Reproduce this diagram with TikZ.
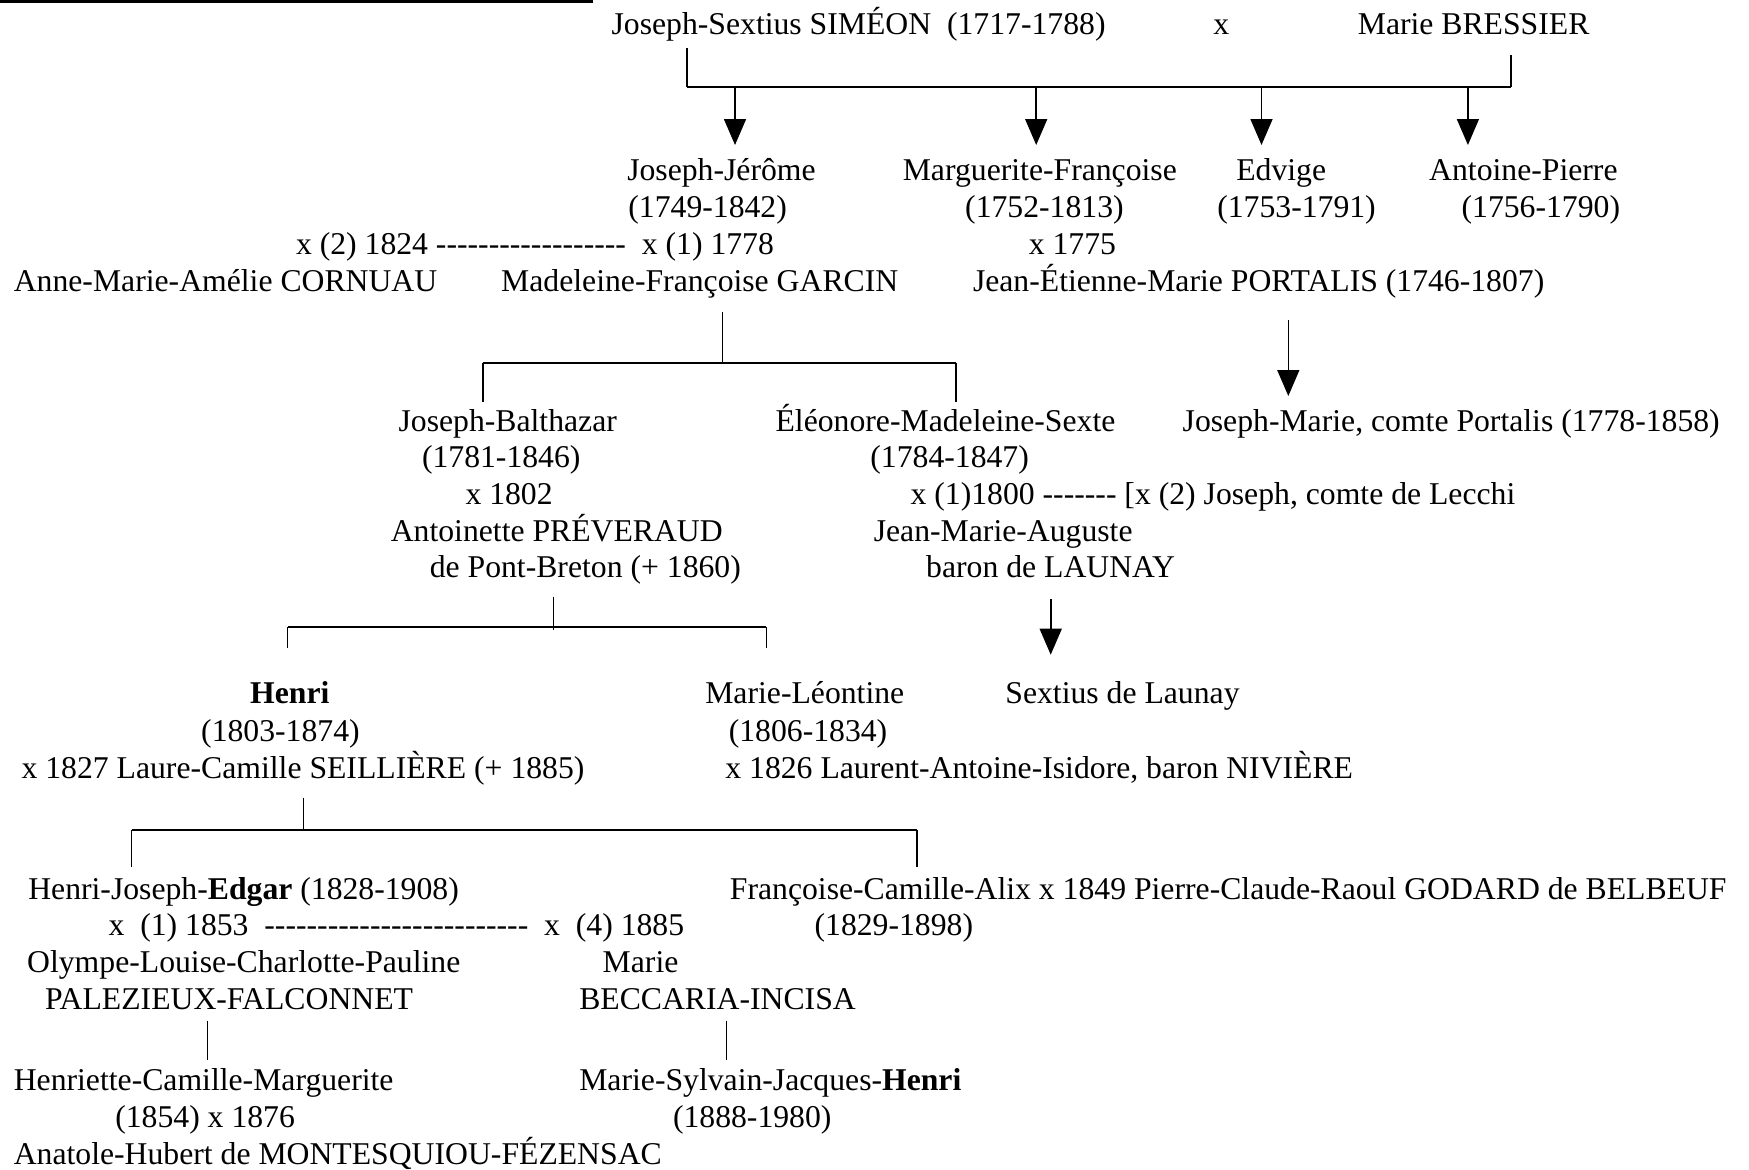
\documentclass[tikz,border=0pt]{standalone}
\usepackage{fontspec}
\setmainfont{Liberation Serif}[Ligatures=TeXOff]
\usetikzlibrary{arrows.meta,calc,positioning}
\tikzset{nm/.style={anchor=base west, inner sep=0pt, font=\fontsize{15.85}{19}\selectfont}}
\tikzstyle{br}=[line width=1pt]
\tikzstyle{tie}=[line width=0.6pt]
\tikzstyle{desc}=[->, line width=0.8pt]

\begin{document}
\begin{tikzpicture}[x=0.5pt,y=-0.5pt,>={Triangle[width=11pt,length=13pt]}]
\useasboundingbox (0,0) rectangle (1749,1169);
\draw[line width=1.5pt] (0,1.5) -- (593,1.5);

% parents
\node[nm] (JS) at (611.2,34.6) {Joseph-Sextius SIMÉON\ \ (1717-1788)};
\node[nm, anchor=base] (X0) at (1221.4,34.6) {x};
\node[nm] (MB) at (1357.4,34.6) {Marie BRESSIER};
\coordinate (JSa) at (687,48);
\coordinate (JSb) at (687,87);
\coordinate (MBa) at (1511,55);
\coordinate (MBb) at (1511,87);
\draw[tie] (JSa) -- (JSb);
\draw[tie] (MBa) -- (MBb);
\draw[br] (JSb) -- (MBb);
\foreach \n/\x in {jj/735,mf/1036.2,ed/1261.5,ap/1467.9}{
  \coordinate (\n-a) at (\x,87);
  \coordinate (\n-b) at (\x,145);
  \draw[desc] (\n-a) -- (\n-b);
}

% children
\node[nm] (JJ) at (626.9,180.7) {Joseph-Jérôme};
\node[nm] (JJd) at (628,217.5) {(1749-1842)};
\node[nm] (JJx) at (295.6,254.3) {x (2) 1824 ------------------\ \ x (1) 1778};
\node[nm] (AMC) at (13.4,291.1) {Anne-Marie-Amélie CORNUAU};
\node[nm] (MFG) at (500.8,291.1) {Madeleine-Françoise GARCIN};
\node[nm] (MF) at (902.4,180.7) {Marguerite-Françoise};
\node[nm] (MFd) at (964.8,217.5) {(1752-1813)};
\node[nm] (MFx) at (1028.4,254.3) {x 1775};
\node[nm] (JEP) at (972.6,291.1) {Jean-Étienne-Marie PORTALIS (1746-1807)};
\node[nm] (ED) at (1235.9,180.7) {Edvige};
\node[nm] (EDd) at (1216.9,217.5) {(1753-1791)};
\node[nm] (AP) at (1428.8,180.7) {Antoine-Pierre};
\node[nm] (APd) at (1461.2,217.5) {(1756-1790)};

\coordinate (g1a) at (722.8,312);
\coordinate (g1b) at (722.8,362.5);
\coordinate (g1l) at (483,362.5);
\coordinate (g1r) at (955.9,362.5);
\coordinate (g1ld) at (483,401.5);
\coordinate (g1rd) at (955.9,401.5);
\draw[tie] (g1a) -- (g1b);
\draw[br] (g1l) -- (g1r);
\draw[tie] (g1l) -- (g1ld);
\draw[tie] (g1r) -- (g1rd);
\coordinate (pta) at (1288.3,320);
\coordinate (ptb) at (1288.3,396);
\draw[desc] (pta) -- (ptb);

% grandchildren
\node[nm] (JB) at (398.2,431.7) {Joseph-Balthazar};
\node[nm] (JBd) at (421.6,467.4) {(1781-1846)};
\node[nm] (JBx) at (465.1,504.2) {x 1802};
\node[nm] (APR) at (390.4,541) {Antoinette PRÉVERAUD};
\node[nm] (APR2) at (429.4,577.8) {de Pont-Breton (+ 1860)};
\node[nm] (EMS) at (775.2,431.7) {Éléonore-Madeleine-Sexte};
\node[nm] (EMSd) at (870,467.4) {(1784-1847)};
\node[nm] (EMSx) at (910.2,504.2) {x (1)1800 ------- [x (2) Joseph, comte de Lecchi};
\node[nm] (JMA) at (873.4,541) {Jean-Marie-Auguste};
\node[nm] (JMA2) at (925.8,577.8) {baron de LAUNAY};
\node[nm] (JMP) at (1182.3,431.7) {Joseph-Marie, comte Portalis (1778-1858)};

\coordinate (g2a) at (553.2,596.7);
\coordinate (g2b) at (553.2,630);
\coordinate (g2l) at (287.8,626.9);
\coordinate (g2r) at (766.3,626.9);
\coordinate (g2ld) at (287.8,648);
\coordinate (g2rd) at (766.3,648);
\draw[tie] (g2a) -- (g2b);
\draw[br] (g2l) -- (g2r);
\draw[tie] (g2l) -- (g2ld);
\draw[tie] (g2r) -- (g2rd);
\coordinate (lna) at (1050.7,599);
\coordinate (lnb) at (1050.7,654.7);
\draw[desc] (lna) -- (lnb);

\node[nm] (HE) at (249.8,703.8) {\textbf{Henri}};
\node[nm] (HEd) at (200.8,741.7) {(1803-1874)};
\node[nm] (HEx) at (21.2,778.5) {x 1827 Laure-Camille SEILLIÈRE (+ 1885)};
\node[nm] (ML) at (704.9,703.8) {Marie-Léontine};
\node[nm] (MLd) at (728.4,741.7) {(1806-1834)};
\node[nm] (MLx) at (725,778.5) {x 1826 Laurent-Antoine-Isidore, baron NIVIÈRE};
\node[nm] (SL) at (1005,703.8) {Sextius de Launay};

\coordinate (g3a) at (303.4,797.5);
\coordinate (g3b) at (303.4,831);
\coordinate (g3l) at (131.6,829.9);
\coordinate (g3r) at (916.9,829.9);
\coordinate (g3ld) at (131.6,866.7);
\coordinate (g3rd) at (916.9,866.7);
\draw[tie] (g3a) -- (g3b);
\draw[br] (g3l) -- (g3r);
\draw[tie] (g3l) -- (g3ld);
\draw[tie] (g3r) -- (g3rd);

\node[nm] (HJE) at (27.9,899) {Henri-Joseph-\textbf{Edgar} (1828-1908)};
\node[nm] (HJEx) at (108.2,935.8) {x\ \ (1) 1853\ \ -------------------------\ \ x\ \ (4) 1885};
\node[nm] (OL) at (26.8,972.6) {Olympe-Louise-Charlotte-Pauline};
\node[nm] (PF) at (44.6,1009.4) {PALEZIEUX-FALCONNET};
\node[nm] (MA) at (602.3,972.6) {Marie};
\node[nm] (BI) at (578.9,1009.4) {BECCARIA-INCISA};
\node[nm] (FCA) at (729.5,899) {Françoise-Camille-Alix x 1849 Pierre-Claude-Raoul GODARD de BELBEUF};
\node[nm] (FCAd) at (814.2,935.8) {(1829-1898)};

\coordinate (pfa) at (207.5,1020.6);
\coordinate (pfb) at (207.5,1059.6);
\coordinate (bia) at (726.1,1020.6);
\coordinate (bib) at (726.1,1059.6);
\draw[tie] (pfa) -- (pfb);
\draw[tie] (bia) -- (bib);

\node[nm] (HCM) at (13.4,1090.9) {Henriette-Camille-Marguerite};
\node[nm] (HCMd) at (114.9,1127.7) {(1854) x 1876};
\node[nm] (AH) at (13.4,1164.5) {Anatole-Hubert de MONTESQUIOU-FÉZENSAC};
\node[nm] (MSJ) at (578.9,1090.9) {Marie-Sylvain-Jacques-\textbf{Henri}};
\node[nm] (MSJd) at (672.6,1127.7) {(1888-1980)};
\end{tikzpicture}
\end{document}
